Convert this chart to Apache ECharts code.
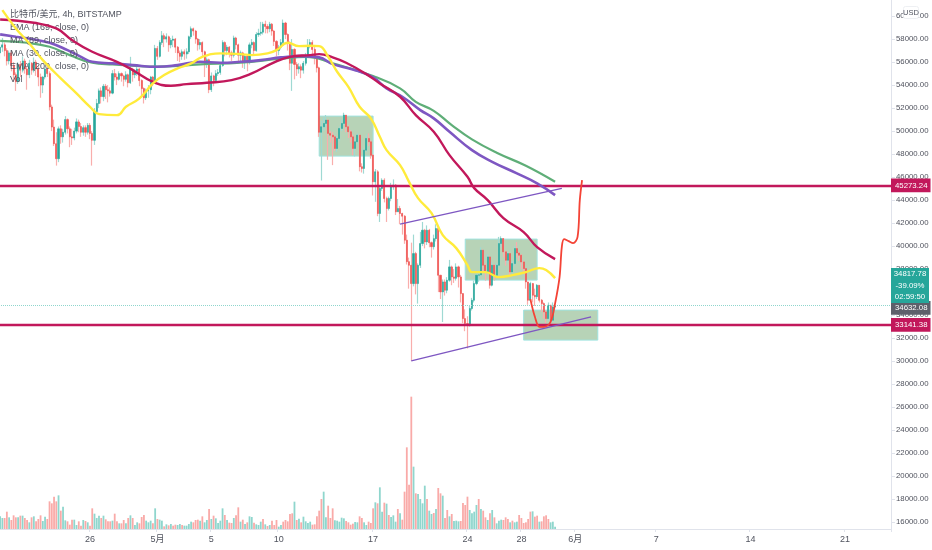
<!DOCTYPE html>
<html><head><meta charset="utf-8">
<style>html,body{margin:0;padding:0;background:#fff}#c{width:932px;height:550px}</style>
<script src="https://cdn.jsdelivr.net/npm/echarts@6/dist/echarts.min.js"></script>
</head><body><div id="c"></div>
<script>
const firstOpen = 56800;
const closes = [
57300,57500,57000,56100,56800,55700,54900,54300,55800,55300,
56100,55400,54900,55900,55300,56000,55400,54700,54000,54700,
55400,55000,52100,50350,48900,47600,50200,49500,49900,51000,
50200,49500,49400,50000,50800,50400,49900,50300,49900,50500,
49800,49200,51700,52400,53500,53000,53900,53600,53500,53300,
55000,54700,54500,55000,54800,54500,54900,54200,55400,54900,
55200,55400,54400,53700,52900,53500,53600,54700,54300,57190,
56500,57700,58300,58000,58200,57500,57900,58000,57300,56800,
56500,56900,56700,56900,58200,58900,58700,58000,57500,57700,
56900,55800,56200,53600,54800,54400,55000,55100,55700,57700,
57000,57300,56800,56600,58100,57500,56600,56800,56100,56500,
56000,57500,57700,57000,58400,58500,58600,59300,59100,58900,
59300,58700,57800,57000,57300,57700,59400,58400,57700,55900,
57100,55800,55400,55600,55300,55900,56600,57400,57700,57100,
56400,55500,49900,50375,50665,50955,49800,49650,49500,48490,
49360,50230,50665,51390,50375,49940,49500,48490,49070,49650,
46900,46750,48345,49360,49070,47900,45590,46460,42835,45010,
45735,44140,43270,44140,45155,45300,42980,43270,42835,42600,
40515,38650,38336,36741,39351,36741,38336,40221,41381,40366,
41381,40300,39950,40650,41526,37466,36016,36886,36161,37031,
38191,37321,37200,38191,37321,35871,33696,33261,33116,34566,
35291,36741,37466,37500,39641,38336,37756,39061,36596,38336,
37466,38336,40221,40656,39500,38771,39351,37756,38481,39786,
39400,39206,38626,38046,36886,35291,36741,35726,35600,36596,
35291,35000,34276,33696,34856,33551,34700,34817];
const highs = [
57800,58100,57700,57200,57000,57000,56000,55100,56000,56100,
56500,56300,55600,56200,56000,56400,56200,55600,55000,54800,
55500,55800,55200,52300,51000,49900,50400,50500,50200,51300,
51100,50400,50200,50300,51100,51000,50700,50500,50500,50700,
50700,50000,52000,52800,53700,53800,54100,54100,54000,53800,
55300,55400,55000,55200,55100,54900,55200,55000,56460,55500,
55400,55600,55500,54500,53800,53700,54000,54800,54800,57500,
57400,57900,58700,58500,58500,58300,58100,58300,58100,57400,
57000,57100,57100,57200,58300,59100,59000,58800,58100,58000,
57800,57000,56400,56300,55100,54900,55300,55400,55900,57900,
57800,57500,57400,57000,58300,58200,57600,57000,56900,56700,
56600,57700,58000,57800,58600,58900,59500,59500,59600,59300,
59500,59400,58800,57900,57500,58000,59700,59500,58500,57800,
58000,57200,56000,55900,55800,56100,56800,58000,58000,57900,
57300,56500,55600,50900,51200,51400,51000,50000,49900,49600,
49600,50400,51000,51600,51400,50500,50100,49700,49300,49800,
49700,47200,48500,49700,49800,49200,48000,46700,46600,45300,
45900,45900,44300,44300,45500,45800,45400,44100,43500,42900,
42700,41000,39000,40300,41000,39500,38500,41236,42100,41500,
41800,41500,40400,41000,41900,41700,37500,37100,37100,37300,
38800,38300,38000,38500,38300,37500,35900,34500,33900,34800,
35500,37000,37700,37800,39900,39700,38500,39300,39100,38600,
38400,38500,40800,40850,40700,39600,39500,39400,38700,40000,
40350,39500,39300,38700,38100,36900,36900,36800,36300,36700,
36600,35400,35100,34400,35100,34900,35100,34950];
const lows = [
56300,56900,56500,55700,55800,55200,54300,53500,54100,54700,
55100,55000,53600,54600,54900,55100,54800,53900,52900,53300,
54500,54700,51800,50000,48700,47000,47300,48900,49000,49700,
49800,48600,48800,49200,49800,49900,49500,49600,49500,49700,
49300,47000,48800,51500,52000,52400,52600,52800,52500,53000,
53200,54400,54000,54400,54300,53900,54300,53800,54100,54300,
54600,54800,53900,53100,52400,52700,52900,53200,53900,54100,
56200,56400,57500,57300,57700,56900,57200,57300,56800,56100,
56000,56200,56200,56300,56700,58000,58300,57600,57000,57100,
56500,54700,55500,53300,53400,53900,54200,54800,54900,55600,
56500,56600,56400,56100,56400,57100,56000,56100,55500,55400,
55200,55800,57200,56600,56900,58200,58300,58400,58500,58500,
58600,58300,57400,56500,56600,57100,57500,58000,57000,55300,
53500,54500,54800,55000,54600,55000,55700,56400,57200,56600,
55800,55100,49500,45700,50000,50300,47500,49000,47040,48300,
48200,49100,50000,50500,49900,49400,49000,47900,47800,48900,
46500,46400,46300,48200,48700,47600,44400,43850,42600,42100,
44800,43800,42100,43100,43900,44900,42700,43000,41900,41000,
40200,38400,36300,30000,36500,35800,35000,38100,40000,39800,
40100,39900,39000,39700,40400,36000,35400,33400,35700,35900,
36900,36600,36800,37000,36400,35100,33300,32600,31100,33000,
34400,35100,36600,36900,37400,37800,37000,37600,36300,36500,
37000,37300,38200,39900,39000,38300,38500,37300,37600,38300,
39000,38700,38000,37600,36300,34900,35200,35100,34800,35400,
35100,34300,33700,33300,33500,33100,33400,34500];
const volumes = [
38,33,33,52,35,27,41,35,35,40,
40,33,27,20,35,38,23,30,41,24,
37,30,83,77,97,83,101,55,67,26,
23,13,28,28,12,23,10,27,24,20,
10,62,46,33,40,33,40,29,23,23,
25,46,23,17,17,27,17,33,41,33,
12,20,17,36,42,25,20,25,17,62,
30,28,25,8,14,11,15,10,13,12,
15,12,10,10,15,22,20,27,28,25,
38,20,27,60,30,40,32,18,25,62,
42,27,19,18,33,41,65,22,28,15,
20,38,36,19,14,12,22,30,14,9,
12,25,12,27,7,12,22,27,23,45,
47,82,27,31,20,37,23,18,22,13,
14,38,55,90,112,35,70,33,62,26,
25,22,34,32,24,20,13,16,21,20,
38,33,20,12,22,18,62,80,77,125,
52,79,76,42,36,41,22,60,47,28,
112,245,133,397,187,107,105,90,77,130,
90,55,45,48,60,123,107,100,33,57,
38,45,24,25,23,24,78,72,97,57,
47,52,72,90,60,55,35,27,47,57,
35,17,25,28,27,35,30,20,25,20,
22,42,33,18,20,30,52,53,37,40,
22,23,38,41,30,20,22,7];
const volumeDirs = "ggrrgrrrgr"+"grrgrgrrrg"+"grrrrrgrgg"+"rrrggrrgrg"+"rrgggrgrrr"+"grrgrrgrgr"+"ggrrrgggrg"+"rggrgrgrrg"+"grggggrrrg"+"rggrgrgggg"+"rgrrgrrgrg"+"rggrgggrgr"+"grrrggrrrr"+"rgrgrggggr"+"rrrrggrrrg"+"ggggrrrrgg"+"rrggrrrgrg"+"grgrgggrgr"+"rrrrgrgggg"+"rggrgrrgrr"+"grgggrrrrg"+"gggrgrrgrg"+"rgggrrrgrg"+"grrrrrrgrr"+"grrrrggg";
const ma30 = [[1,60521],[7,58930],[13,57620],[19,56174],[27,54580],[34,53275],[40,52110],[44,51478],[52,51390],[56,52110],[62,52840],[68,54147],[73,54870],[79,55450],[85,55885],[90,56460],[98,56755],[107,56695],[112,56610],[119,56755],[123,57043],[128,57680],[133,57390],[138,57417],[142,57390],[146,56460],[150,55158],[155,53852],[160,52113],[165,51104],[169,49504],[172,48347],[178,47043],[182,45590],[186,44173],[192,42870],[197,40955],[203,39825],[208,38347],[210,37738],[216,37738],[222,37303],[228,37477],[234,37738],[240,38086],[243,37912],[247,37216]];
const ema169 = [[0,59710],[15,59417],[25,58930],[32,57913],[41,56897],[52,56025],[59,55304],[68,54286],[76,53939],[83,54086],[92,54200],[103,54434],[112,55017],[121,55887],[129,56460],[138,56610],[142,56695],[148,56408],[154,55940],[163,54956],[169,54147],[178,52985],[185,51390],[193,49940],[200,47912],[208,46025],[211,45043],[217,44000],[224,42434],[233,41217],[239,39912],[247,38868]];
const ma89 = [[0,58408],[7,58200],[15,57973],[22,57680],[30,57043],[36,56460],[41,56025],[50,55887],[59,55739],[70,55591],[79,55739],[89,56025],[98,55940],[107,56025],[116,56174],[125,56408],[133,56521],[142,56408],[148,55826],[157,55365],[166,54669],[172,53713],[179,52985],[187,51826],[193,51104],[200,49940],[210,48347],[219,47330],[230,46321],[239,45452],[247,44433]];
const ema200 = [[0,57852],[12,57680],[22,57330],[31,56609],[41,55940],[50,55800],[70,55600],[89,55800],[107,55950],[125,56300],[136,56450],[148,55900],[166,54782],[178,53713],[185,52547],[193,51765],[201,50521],[210,49278],[221,48116],[234,46983],[247,45590]];
const forecastPath = [[236,35390],[238,33851],[240,32980],[242,32980],[245,33417],[247,35016],[249,37329],[250,39938],[251,40608],[253,40434],[255,40260],[257,40808],[258,43999],[259,45738]];
const trendUpper = [[178,41912],[250,45017]];
const trendLower = [[183,30024],[263,33851]];
const boxes = [[142,51304,166,47825],[207,40608,239,37042],[233,34433,266,31824]];
const supportLevels = [45273.24, 33141.38];
const lastPrice = 34817.78, lastClose = 34632.08;
const lastTag = "34817.78\n-39.09%\n02:59:50";
const priceTicks = [16000,18000,20000,22000,24000,26000,28000,30000,32000,34000,36000,38000,40000,42000,44000,46000,48000,50000,52000,54000,56000,58000,60000];
const dayLabels = {40:"26",70:"5月",94:"5",124:"10",166:"17",208:"24",232:"28",256:"6月",292:"7",334:"14",376:"21"};
const legendLines = ["比特币/美元, 4h, BITSTAMP","EMA (169, close, 0)","MA (89, close, 0)","MA (30, close, 0)","EMA (200, close, 0)","Vol"];
const BAR_COUNT = 397;

const UP="#26a69a",DOWN="#ef5350",FONT='"Liberation Sans","Noto Sans CJK SC",sans-serif';
const categories = Array.from({length:BAR_COUNT},(_,i)=>String(i));
const opens = [firstOpen].concat(closes.slice(0,-1));
const wickData = closes.map((c,i)=>[opens[i],c,lows[i],highs[i]]);
const bodyData = closes.map((c,i)=>[opens[i],c,Math.min(opens[i],c),Math.max(opens[i],c)]);
const volData = volumes.map((v,i)=>({value:v,itemStyle:{color:volumeDirs[i]==="g"?"#8fd6cd":"#f9aaa8"}}));
const lineS=(name,data,color,width,z)=>({name,type:"line",data,symbol:"none",smooth:0.45,z,silent:true,animation:false,lineStyle:{color,width},xAxisIndex:0,yAxisIndex:0});
const tag=(bg)=>({show:true,position:"end",distance:0,opacity:1,formatter:p=>p.value.toFixed(2),color:"#fff",backgroundColor:bg,fontFamily:FONT,fontSize:7.8,padding:[3,3,3,4],align:"left"});
const chart = echarts.init(document.getElementById("c"),null,{renderer:"canvas"});
chart.setOption({
 animation:false,backgroundColor:"#fff",
 title:{text:legendLines.join("\n"),left:5,top:3,itemGap:0,textStyle:{fontFamily:FONT,fontSize:9,fontWeight:"normal",color:"#50535e",lineHeight:13}},
 grid:{left:-1,right:41,top:0,height:529,containLabel:false,outerBoundsMode:"none"},
 xAxis:[{type:"category",data:categories,boundaryGap:true,
   axisLine:{lineStyle:{color:"#e0e3eb"}},
   axisTick:{show:true,length:3,lineStyle:{color:"#e0e3eb"},interval:(i)=>dayLabels[i]!==undefined},
   axisLabel:{interval:(i)=>dayLabels[i]!==undefined,formatter:(v)=>dayLabels[v]||"",color:"#50535e",fontFamily:FONT,fontSize:9,margin:6,hideOverlap:false},
   splitLine:{show:false}}],
 yAxis:[{type:"value",position:"right",min:15400,max:61400,scale:true,
   axisLine:{show:true,lineStyle:{color:"#e0e3eb"}},
   axisTick:{show:true,length:4,lineStyle:{color:"#e0e3eb"},customValues:priceTicks},
   axisLabel:{color:"#50535e",fontFamily:FONT,fontSize:7.8,margin:5,customValues:priceTicks,formatter:v=>v.toFixed(2)},
   splitLine:{show:false}},
  {type:"value",position:"left",min:0,max:1587,show:false,splitLine:{show:false}}],
 series:[
  {name:"Vol",type:"bar",data:volData,barWidth:1.8,xAxisIndex:0,yAxisIndex:1,z:1,silent:true},
  {name:"wicks",type:"candlestick",data:wickData,barWidth:1,z:2,silent:true,itemStyle:{color:"#9fd9d3",color0:"#f9aeac",borderColor:"#9fd9d3",borderColor0:"#f9aeac",borderWidth:1.2},xAxisIndex:0,yAxisIndex:0},
  {name:"bodies",type:"candlestick",data:bodyData,barWidth:1.6,z:3,silent:true,itemStyle:{color:UP,color0:DOWN,borderColor:UP,borderColor0:DOWN,borderWidth:0.6},xAxisIndex:0,yAxisIndex:0},
  lineS("EMA 200",ema200,"#5fae78",2.2,4),
  lineS("MA 89",ma89,"#7e57c2",2.6,5),
  lineS("EMA 169",ema169,"#c2185b",2.4,6),
  lineS("MA 30",ma30,"#ffeb3b",2.4,6),
  Object.assign(lineS("trend upper",trendUpper,"#7e57c2",1.4,7),{smooth:false}),
  Object.assign(lineS("trend lower",trendLower,"#7e57c2",1.4,7),{smooth:false}),
  Object.assign(lineS("forecast",forecastPath,"#f44336",1.8,7),{smooth:0.35,
    markLine:{silent:true,symbol:"none",animation:false,precision:2,
      data:[
       {yAxis:lastPrice,lineStyle:{color:"#8fd6cd",type:"dotted",width:1},label:{show:false}},
       {yAxis:supportLevels[0],lineStyle:{color:"#c2185b",width:2.4,type:"solid"},label:tag("#c2185b")},
       {yAxis:supportLevels[1],lineStyle:{color:"#c2185b",width:2.4,type:"solid"},label:tag("#c2185b")},
       {yAxis:lastClose,lineStyle:{opacity:0},label:tag("#5d606b")}
      ]}}),
  {name:"boxes",type:"line",data:[[0,null]],z:8,silent:true,symbol:"none",
    markArea:{silent:true,animation:false,itemStyle:{color:"rgba(76,145,76,0.40)",borderColor:"#9fe3df",borderWidth:1},
      data:boxes.map(b=>[{xAxis:b[0],yAxis:b[1]},{xAxis:b[2],yAxis:b[3]}])}}
 ],
 graphic:[
  {type:"group",left:891,top:268,children:[
    {type:"rect",z:20,shape:{x:0,y:0,width:38,height:35},style:{fill:"#26a69a"}},
    {type:"text",z:21,style:{x:19,y:17.5,text:lastTag,fill:"#fff",font:'7.8px '+FONT,align:"center",verticalAlign:"middle",lineHeight:11.5}}]},
  {type:"group",left:903,top:6,children:[
    {type:"rect",z:20,shape:{x:0,y:0,width:15,height:12,r:2},style:{fill:"#fff",stroke:"#eef0f3",lineWidth:1}},
    {type:"text",z:21,style:{x:7.5,y:6,text:"USD",fill:"#50535e",font:'7.5px '+FONT,align:"center",verticalAlign:"middle"}}]}
 ]
});
</script></body></html>
